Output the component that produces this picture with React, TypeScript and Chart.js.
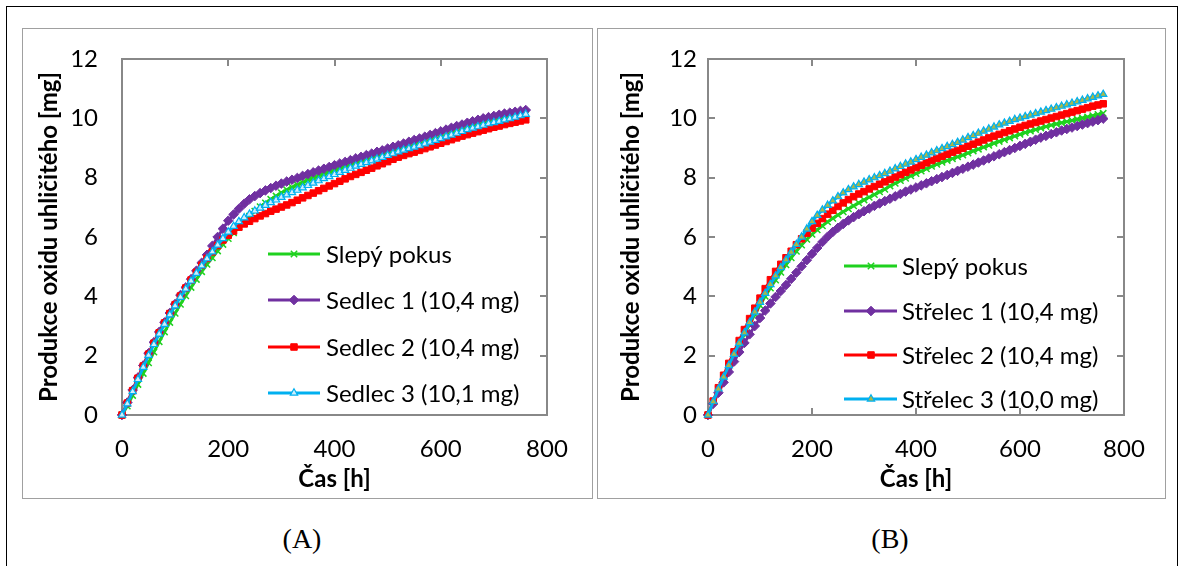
import React, { useEffect, useRef } from 'react';
import { Chart, registerables } from 'chart.js';

Chart.register(...registerables);

// ---------------- DATA ----------------
const hours = [
  0, 10, 20, 30, 40, 50, 60, 70, 80, 90,
  100, 110, 120, 130, 140, 150, 160, 170, 180, 190,
  200, 210, 220, 230, 240, 250, 260, 270, 280, 290,
  300, 310, 320, 330, 340, 350, 360, 370, 380, 390,
  400, 410, 420, 430, 440, 450, 460, 470, 480, 490,
  500, 510, 520, 530, 540, 550, 560, 570, 580, 590,
  600, 610, 620, 630, 640, 650, 660, 670, 680, 690,
  700, 710, 720, 730, 740, 750, 760,
];

const xTicks = [0, 200, 400, 600, 800];
const yTicks = [0, 2, 4, 6, 8, 10, 12];

// Panel A
const labelsA = ['Slepý pokus', 'Sedlec 1 (10,4 mg)', 'Sedlec 2 (10,4 mg)', 'Sedlec 3 (10,1 mg)'];
const blankA = [
  0, 0.30, 0.66, 1.03, 1.40, 1.76, 2.12, 2.47, 2.80, 3.12,
  3.43, 3.73, 4.02, 4.30, 4.57, 4.83, 5.08, 5.30, 5.53, 5.75,
  5.95, 6.14, 6.33, 6.52, 6.70, 6.87, 7.02, 7.15, 7.27, 7.38,
  7.49, 7.59, 7.68, 7.76, 7.84, 7.92, 7.99, 8.06, 8.13, 8.20,
  8.26, 8.32, 8.38, 8.44, 8.50, 8.56, 8.61, 8.66, 8.71, 8.76,
  8.81, 8.86, 8.91, 8.96, 9.01, 9.06, 9.11, 9.17, 9.23, 9.29,
  9.35, 9.41, 9.47, 9.53, 9.59, 9.65, 9.70, 9.75, 9.80, 9.85,
  9.89, 9.93, 9.97, 10.01, 10.05, 10.09, 10.13,
];
const sedlec1 = [
  0, 0.42, 0.84, 1.26, 1.67, 2.08, 2.45, 2.80, 3.12, 3.44,
  3.74, 4.04, 4.30, 4.58, 4.86, 5.13, 5.40, 5.70, 6.00, 6.28,
  6.55, 6.76, 6.95, 7.12, 7.27, 7.38, 7.48, 7.57, 7.65, 7.73,
  7.80, 7.87, 7.93, 7.99, 8.06, 8.12, 8.18, 8.24, 8.30, 8.36,
  8.42, 8.48, 8.53, 8.59, 8.65, 8.70, 8.76, 8.81, 8.87, 8.92,
  8.98, 9.04, 9.09, 9.15, 9.21, 9.27, 9.32, 9.38, 9.44, 9.50,
  9.56, 9.62, 9.68, 9.74, 9.79, 9.85, 9.90, 9.95, 10.00, 10.04,
  10.08, 10.12, 10.16, 10.19, 10.22, 10.25, 10.28,
];
const sedlec2 = [
  0, 0.40, 0.82, 1.24, 1.65, 2.05, 2.42, 2.77, 3.10, 3.42,
  3.72, 4.01, 4.28, 4.55, 4.81, 5.05, 5.28, 5.50, 5.71, 5.90,
  6.06, 6.20, 6.33, 6.44, 6.53, 6.62, 6.71, 6.79, 6.87, 6.94,
  7.01, 7.08, 7.16, 7.24, 7.32, 7.40, 7.48, 7.56, 7.64, 7.72,
  7.80, 7.88, 7.96, 8.04, 8.11, 8.18, 8.25, 8.32, 8.40, 8.47,
  8.54, 8.62, 8.69, 8.75, 8.81, 8.86, 8.92, 8.98, 9.04, 9.10,
  9.16, 9.22, 9.28, 9.34, 9.40, 9.45, 9.50, 9.55, 9.60, 9.65,
  9.70, 9.74, 9.79, 9.83, 9.87, 9.91, 9.95,
];
const sedlec3 = [
  0, 0.38, 0.79, 1.20, 1.61, 2.01, 2.38, 2.73, 3.06, 3.38,
  3.68, 3.97, 4.25, 4.52, 4.78, 5.03, 5.27, 5.50, 5.73, 5.95,
  6.17, 6.36, 6.52, 6.65, 6.77, 6.88, 6.98, 7.07, 7.16, 7.25,
  7.34, 7.42, 7.50, 7.58, 7.66, 7.74, 7.82, 7.90, 7.97, 8.04,
  8.11, 8.18, 8.25, 8.32, 8.39, 8.45, 8.51, 8.57, 8.63, 8.69,
  8.75, 8.81, 8.87, 8.93, 8.98, 9.03, 9.08, 9.14, 9.20, 9.26,
  9.32, 9.38, 9.44, 9.50, 9.56, 9.62, 9.67, 9.72, 9.77, 9.82,
  9.86, 9.90, 9.95, 9.99, 10.04, 10.09, 10.14,
];

// Panel B
const labelsB = ['Slepý pokus', 'Střelec 1 (10,4 mg)', 'Střelec 2 (10,4 mg)', 'Střelec 3 (10,0 mg)'];
const blankB = [
  0, 0.44, 0.86, 1.26, 1.64, 2.01, 2.37, 2.72, 3.06, 3.39,
  3.70, 4.00, 4.28, 4.55, 4.81, 5.06, 5.30, 5.52, 5.73, 5.92,
  6.09, 6.24, 6.38, 6.51, 6.63, 6.74, 6.85, 6.95, 7.05, 7.15,
  7.25, 7.34, 7.43, 7.52, 7.61, 7.72, 7.81, 7.90, 7.98, 8.06,
  8.14, 8.22, 8.30, 8.38, 8.45, 8.52, 8.58, 8.64, 8.70, 8.76,
  8.83, 8.90, 8.96, 9.03, 9.09, 9.16, 9.22, 9.28, 9.34, 9.40,
  9.46, 9.52, 9.57, 9.62, 9.67, 9.72, 9.77, 9.81, 9.85, 9.89,
  9.93, 9.97, 10.01, 10.05, 10.09, 10.13, 10.17,
];
const strelec1 = [
  0, 0.38, 0.75, 1.10, 1.45, 1.80, 2.12, 2.43, 2.72, 3.00,
  3.27, 3.52, 3.76, 3.98, 4.18, 4.38, 4.59, 4.80, 5.01, 5.22,
  5.43, 5.63, 5.83, 6.01, 6.17, 6.31, 6.44, 6.56, 6.67, 6.77,
  6.87, 6.96, 7.05, 7.13, 7.21, 7.29, 7.37, 7.45, 7.53, 7.60,
  7.67, 7.74, 7.81, 7.88, 7.95, 8.02, 8.09, 8.16, 8.23, 8.30,
  8.37, 8.44, 8.51, 8.58, 8.65, 8.72, 8.79, 8.86, 8.93, 9.00,
  9.07, 9.14, 9.21, 9.28, 9.35, 9.41, 9.47, 9.53, 9.59, 9.64,
  9.69, 9.74, 9.79, 9.84, 9.89, 9.94, 9.99,
];
const strelec2 = [
  0, 0.47, 0.92, 1.34, 1.74, 2.13, 2.51, 2.88, 3.25, 3.60,
  3.94, 4.26, 4.56, 4.84, 5.08, 5.30, 5.52, 5.74, 5.94, 6.13,
  6.30, 6.46, 6.62, 6.77, 6.90, 7.03, 7.15, 7.26, 7.36, 7.45,
  7.53, 7.62, 7.70, 7.78, 7.86, 7.94, 8.02, 8.10, 8.18, 8.26,
  8.34, 8.42, 8.50, 8.58, 8.65, 8.72, 8.79, 8.86, 8.92, 8.99,
  9.06, 9.13, 9.20, 9.27, 9.34, 9.40, 9.46, 9.52, 9.58, 9.64,
  9.70, 9.76, 9.81, 9.86, 9.91, 9.96, 10.01, 10.06, 10.11, 10.16,
  10.21, 10.26, 10.31, 10.36, 10.41, 10.45, 10.49,
];
const strelec3 = [
  0, 0.45, 0.88, 1.28, 1.67, 2.05, 2.42, 2.77, 3.12, 3.47,
  3.80, 4.10, 4.40, 4.69, 4.97, 5.23, 5.49, 5.75, 6.00, 6.27,
  6.52, 6.73, 6.91, 7.07, 7.22, 7.36, 7.49, 7.60, 7.69, 7.77,
  7.85, 7.93, 8.00, 8.07, 8.14, 8.22, 8.30, 8.38, 8.46, 8.53,
  8.61, 8.69, 8.76, 8.84, 8.91, 8.98, 9.05, 9.12, 9.19, 9.27,
  9.35, 9.42, 9.50, 9.57, 9.64, 9.71, 9.78, 9.84, 9.90, 9.96,
  10.01, 10.06, 10.11, 10.16, 10.21, 10.26, 10.31, 10.36, 10.41, 10.46,
  10.51, 10.56, 10.61, 10.66, 10.71, 10.76, 10.81,
];

const xTitle = 'Čas [h]';
const yTitle = 'Produkce oxidu uhličitého [mg]';

// ---------------- STYLE ----------------
const FONT = 'Lato, "Noto Sans", sans-serif';
const GREEN = '#1fd11f';
const PURPLE = '#7030a0';
const RED = '#ff0000';
const CYAN = '#00b0f0';
const FRAME = '#888888';

type SeriesStyle = {
  color: string;
  pointStyle: string;
  radius: number;
  fill: string;
  pbw: number;
};

function drawMarker(ctx: CanvasRenderingContext2D, s: SeriesStyle, x: number, y: number) {
  const r = s.radius;
  ctx.save();
  ctx.fillStyle = s.fill;
  ctx.strokeStyle = s.color;
  ctx.lineWidth = s.pbw;
  ctx.beginPath();
  if (s.pointStyle === 'crossRot') {
    const o = r * Math.SQRT1_2;
    ctx.moveTo(x - o, y - o); ctx.lineTo(x + o, y + o);
    ctx.moveTo(x - o, y + o); ctx.lineTo(x + o, y - o);
    ctx.stroke();
  } else if (s.pointStyle === 'rectRot') {
    ctx.moveTo(x, y - r); ctx.lineTo(x + r, y); ctx.lineTo(x, y + r); ctx.lineTo(x - r, y);
    ctx.closePath(); ctx.fill(); ctx.stroke();
  } else if (s.pointStyle === 'rect') {
    const o = r * Math.SQRT1_2;
    ctx.rect(x - o, y - o, 2 * o, 2 * o); ctx.fill(); ctx.stroke();
  } else {
    ctx.moveTo(x, y - r); ctx.lineTo(x + r * 0.87, y + r * 0.5); ctx.lineTo(x - r * 0.87, y + r * 0.5);
    ctx.closePath(); ctx.fill(); ctx.stroke();
  }
  ctx.restore();
}

const framePlugin = {
  id: 'frameTicks',
  beforeDatasetsDraw(chart: any, _args: any, opts: any) {
    const { ctx, chartArea } = chart;
    const { left, right, top, bottom } = chartArea;
    const xs = chart.scales.x;
    const ys = chart.scales.y;
    const sides: string[] = opts.sides || [];
    const L = 7;
    ctx.save();
    ctx.strokeStyle = FRAME;
    ctx.lineWidth = 2;
    ctx.strokeRect(left, top, right - left, bottom - top);
    ctx.beginPath();
    xs.ticks.forEach((t: any) => {
      if (t.value <= xs.min || t.value >= xs.max) return;
      const px = Math.round(xs.getPixelForValue(t.value));
      if (sides.includes('top')) { ctx.moveTo(px, top); ctx.lineTo(px, top + L); }
      if (sides.includes('bottom')) { ctx.moveTo(px, bottom); ctx.lineTo(px, bottom - L); }
    });
    ys.ticks.forEach((t: any) => {
      if (t.value <= ys.min || t.value >= ys.max) return;
      const py = Math.round(ys.getPixelForValue(t.value));
      if (sides.includes('left')) { ctx.moveTo(left, py); ctx.lineTo(left + L, py); }
      if (sides.includes('right')) { ctx.moveTo(right, py); ctx.lineTo(right - L, py); }
    });
    ctx.stroke();
    ctx.restore();
  },
};

const legendPlugin = {
  id: 'inLegend',
  afterDatasetsDraw(chart: any, _args: any, opts: any) {
    const { ctx } = chart;
    const items: { text: string; style: SeriesStyle }[] = opts.items || [];
    ctx.save();
    items.forEach((it, i) => {
      const y = opts.rows[i];
      ctx.strokeStyle = it.style.color;
      ctx.lineWidth = 3;
      ctx.beginPath();
      ctx.moveTo(opts.x0, y);
      ctx.lineTo(opts.x1, y);
      ctx.stroke();
      drawMarker(ctx, it.style, opts.mx, y);
      ctx.fillStyle = '#000';
      ctx.font = opts.font;
      ctx.textBaseline = 'middle';
      ctx.textAlign = 'left';
      ctx.fillText(it.text, opts.tx, y + 1);
    });
    ctx.restore();
  },
};

type PanelProps = {
  left: number;
  top: number;
  w: number;
  h: number;
  labels: string[];
  series: number[][];
  triFill: string;
  sides: string[];
  yWidth: number;
  yTickPad: number;
  yTitlePad: number;
  padRight: number;
  legend: { x0: number; x1: number; mx: number; tx: number; rows: number[] };
};

function Panel(p: PanelProps) {
  const ref = useRef<HTMLCanvasElement | null>(null);
  useEffect(() => {
    if (!ref.current) return;
    const styles: SeriesStyle[] = [
      { color: GREEN, pointStyle: 'crossRot', radius: 4.5, fill: GREEN, pbw: 1.5 },
      { color: PURPLE, pointStyle: 'rectRot', radius: 4.8, fill: PURPLE, pbw: 1 },
      { color: RED, pointStyle: 'rect', radius: 4.6, fill: RED, pbw: 1 },
      { color: CYAN, pointStyle: 'triangle', radius: 4.2, fill: p.triFill, pbw: 1.2 },
    ];
    const datasets = p.series.map((vals, i) => ({
      label: p.labels[i],
      data: hours.map((hh, k) => ({ x: hh, y: vals[k] })),
      borderColor: styles[i].color,
      borderWidth: 3,
      pointStyle: styles[i].pointStyle as any,
      pointRadius: styles[i].radius,
      pointBackgroundColor: styles[i].fill,
      pointBorderColor: styles[i].color,
      pointBorderWidth: styles[i].pbw,
      tension: 0,
      clip: false as any,
      order: 4 - i,
    }));
    const tickFont = { family: FONT, size: 24 };
    const titleFont = { family: FONT, size: 24, weight: 'bold' as any };
    const chart = new Chart(ref.current, {
      type: 'line',
      data: { datasets },
      options: {
        animation: false,
        responsive: false,
        maintainAspectRatio: false,
        events: [],
        layout: { padding: { top: 30, right: p.padRight, left: 0, bottom: 0 } },
        scales: {
          x: {
            type: 'linear',
            min: 0,
            max: 800,
            afterBuildTicks: (s: any) => { s.ticks = xTicks.map((v) => ({ value: v })); },
            afterFit: (s: any) => { s.height = 83; s.paddingLeft = 0; s.paddingRight = 0; },
            grid: { display: false, drawTicks: false },
            border: { display: false },
            ticks: { font: tickFont, color: '#000', padding: 20, maxRotation: 0 },
            title: { display: true, text: xTitle, font: titleFont, color: '#000', padding: { top: 0, bottom: 4 } },
          },
          y: {
            type: 'linear',
            min: 0,
            max: 12,
            afterBuildTicks: (s: any) => { s.ticks = yTicks.map((v) => ({ value: v })); },
            afterFit: (s: any) => { s.width = p.yWidth; s.paddingTop = 0; s.paddingBottom = 0; },
            grid: { display: false, drawTicks: false },
            border: { display: false },
            ticks: { font: tickFont, color: '#000', padding: p.yTickPad },
            title: { display: true, text: yTitle, font: titleFont, color: '#000', padding: { top: p.yTitlePad, bottom: 0 } },
          },
        },
        plugins: {
          legend: { display: false },
          tooltip: { enabled: false },
          frameTicks: { sides: p.sides },
          inLegend: {
            items: p.labels.map((t, i) => ({ text: t, style: styles[i] })),
            x0: p.legend.x0,
            x1: p.legend.x1,
            mx: p.legend.mx,
            tx: p.legend.tx,
            rows: p.legend.rows,
            font: `24px ${FONT}`,
          },
        } as any,
      },
      plugins: [framePlugin, legendPlugin],
    });
    return () => chart.destroy();
  }, []);
  return (
    <div
      style={{
        position: 'absolute',
        left: p.left,
        top: p.top,
        width: p.w,
        height: p.h,
        border: '1.5px solid #a0a0a0',
        background: '#fff',
      }}
    >
      <canvas ref={ref} width={p.w} height={p.h} style={{ display: 'block', width: p.w, height: p.h }} />
    </div>
  );
}

export default function App() {
  return (
    <div
      style={{
        position: 'absolute',
        left: 0,
        top: 0,
        width: 1184,
        height: 566,
        background: '#fff',
        overflow: 'hidden',
      }}
    >
      <div
        style={{
          position: 'absolute',
          left: 6,
          top: 6,
          width: 1170,
          height: 620,
          border: '1.5px solid #000',
        }}
      />
      <Panel
        left={22}
        top={28}
        w={569}
        h={469}
        labels={labelsA}
        series={[blankA, sedlec1, sedlec2, sedlec3]}
        triFill="#cdeefc"
        sides={['top', 'right']}
        yWidth={99}
        yTickPad={24}
        yTitlePad={12}
        padRight={45}
        legend={{ x0: 245, x1: 297, mx: 271, tx: 303, rows: [225, 271, 318, 364] }}
      />
      <Panel
        left={597}
        top={28}
        w={567}
        h={469}
        labels={labelsB}
        series={[blankB, strelec1, strelec2, strelec3]}
        triFill="#a8b84a"
        sides={['top', 'right', 'bottom', 'left']}
        yWidth={110}
        yTickPad={11}
        yTitlePad={19}
        padRight={41}
        legend={{ x0: 246, x1: 299, mx: 273, tx: 304, rows: [237, 282, 326, 370] }}
      />
      <div
        style={{
          position: 'absolute',
          left: 0,
          top: 522,
          width: 604,
          textAlign: 'center',
          font: '28px "Liberation Serif", "Times New Roman", serif',
          lineHeight: '34px',
        }}
      >
        (A)
      </div>
      <div
        style={{
          position: 'absolute',
          left: 600,
          top: 522,
          width: 580,
          textAlign: 'center',
          font: '28px "Liberation Serif", "Times New Roman", serif',
          lineHeight: '34px',
        }}
      >
        (B)
      </div>
    </div>
  );
}
